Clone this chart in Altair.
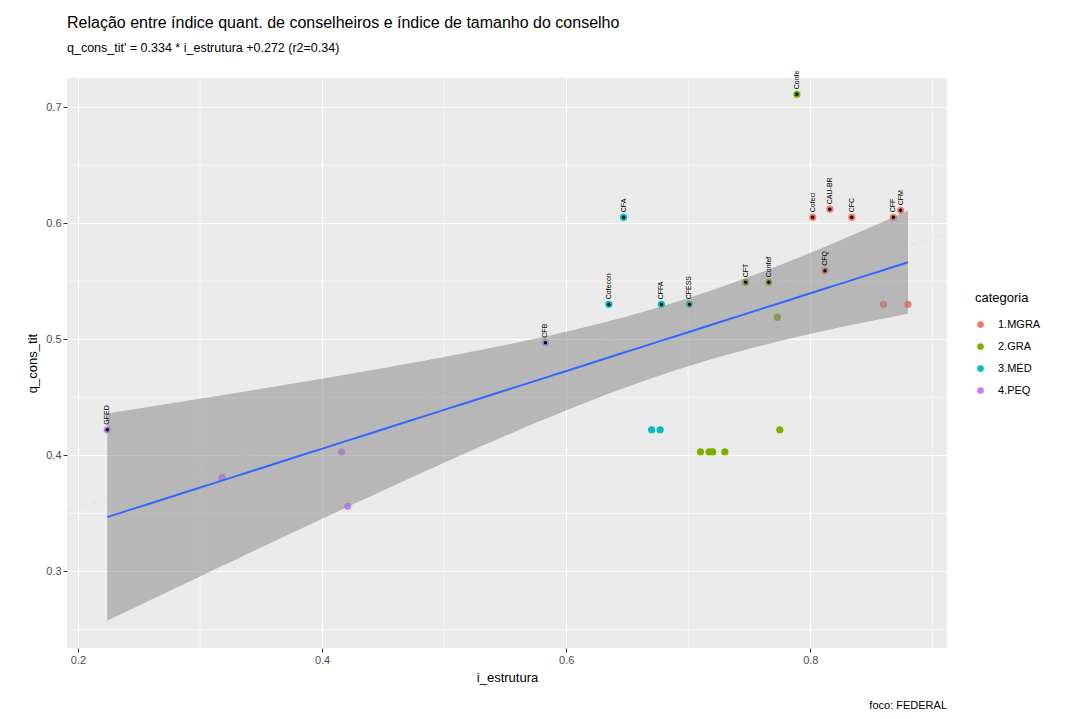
import altair as alt
import pandas as pd
import numpy as np

# ---- data ----
x_vals = [0.224, 0.318, 0.416, 0.421, 0.583, 0.635, 0.647, 0.678, 0.701, 0.747,
          0.766, 0.773, 0.789, 0.802, 0.816, 0.834, 0.868, 0.874, 0.812, 0.860,
          0.880, 0.670, 0.677, 0.710, 0.717, 0.720, 0.730, 0.775]
y_vals = [0.422, 0.381, 0.403, 0.356, 0.497, 0.530, 0.605, 0.530, 0.530, 0.549,
          0.549, 0.519, 0.711, 0.605, 0.612, 0.605, 0.605, 0.611, 0.559, 0.530,
          0.530, 0.422, 0.422, 0.403, 0.403, 0.403, 0.403, 0.422]
categories = ["4.PEQ", "4.PEQ", "4.PEQ", "4.PEQ", "4.PEQ", "3.MÉD", "3.MÉD", "3.MÉD", "3.MÉD", "2.GRA",
              "2.GRA", "2.GRA", "2.GRA", "1.MGRA", "1.MGRA", "1.MGRA", "1.MGRA", "1.MGRA", "1.MGRA", "1.MGRA",
              "1.MGRA", "3.MÉD", "3.MÉD", "2.GRA", "2.GRA", "2.GRA", "2.GRA", "2.GRA"]
labels = ["GFED", "", "", "", "CFB", "Cofecon", "CFA", "CFFA", "CFESS", "CFT",
          "Confef", "", "Confe", "Cofeci", "CAU-BR", "CFC", "CFF", "CFM", "CFQ", "",
          "", "", "", "", "", "", "", ""]

cat_names = ["1.MGRA", "2.GRA", "3.MÉD", "4.PEQ"]
cat_colors = ["#F8766D", "#7CAE00", "#00BFC4", "#C77CFF"]

x_ticks = [0.2, 0.4, 0.6, 0.8]
y_ticks = [0.3, 0.4, 0.5, 0.6, 0.7]
x_minor = [0.3, 0.5, 0.7, 0.9]
y_minor = [0.25, 0.35, 0.45, 0.55, 0.65]
x_domain = [0.191, 0.912]
y_domain = [0.234, 0.725]

# faint dashed reference line (end points)
ref_x = [0.191, 0.912]
ref_y = [0.352, 0.591]

title_text = "Relação entre índice quant. de conselheiros e índice de tamanho do conselho"
subtitle_text = "q_cons_tit' = 0.334 * i_estrutura +0.272 (r2=0.34)"
caption_text = ["foco: FEDERAL"]

# ---- tables ----
pts = pd.DataFrame({"x": x_vals, "y": y_vals, "cat": categories, "label": labels})

xa = np.array(x_vals)
ya = np.array(y_vals)
n = len(xa)
slope, intercept = np.polyfit(xa, ya, 1)
resid = ya - (slope * xa + intercept)
s = np.sqrt((resid ** 2).sum() / (n - 2))
xm = xa.mean()
sxx = ((xa - xm) ** 2).sum()
t_crit = 2.056
grid = np.linspace(xa.min(), xa.max(), 80)
fit = slope * grid + intercept
se = s * np.sqrt(1.0 / n + (grid - xm) ** 2 / sxx)
band = pd.DataFrame({"x": grid, "fit": fit, "lo": fit - t_crit * se, "hi": fit + t_crit * se})

ref = pd.DataFrame({"x": ref_x, "y": ref_y})
xminor_df = pd.DataFrame({"x": x_minor})
yminor_df = pd.DataFrame({"y": y_minor})
cap_df = pd.DataFrame({"t": caption_text})

xscale = alt.Scale(domain=x_domain, nice=False, zero=False)
yscale = alt.Scale(domain=y_domain, nice=False, zero=False)

xaxis = alt.Axis(values=x_ticks, format=".1f", title="i_estrutura", grid=True)
yaxis = alt.Axis(values=y_ticks, format=".1f", title="q_cons_tit", grid=True)


def X(field="x"):
    return alt.X(f"{field}:Q", scale=xscale, axis=xaxis)


def Y(field="y"):
    return alt.Y(f"{field}:Q", scale=yscale, axis=yaxis)


minor_x = alt.Chart(xminor_df).mark_rule(color="white", strokeWidth=0.6).encode(x=X())
minor_y = alt.Chart(yminor_df).mark_rule(color="white", strokeWidth=0.6).encode(y=Y())

ref_line = alt.Chart(ref).mark_line(color="#DEDEDE", strokeWidth=1, strokeDash=[7, 6], opacity=0.8).encode(
    x=X(), y=Y()
)

points = alt.Chart(pts).mark_circle(size=52, opacity=1).encode(
    x=X(), y=Y(),
    color=alt.Color(
        "cat:N",
        scale=alt.Scale(domain=cat_names, range=cat_colors),
        legend=alt.Legend(
            title="categoria", orient="none", legendX=908, legendY=214,
            symbolType="circle", symbolSize=45, titleFontSize=13, labelFontSize=11,
            titleFontWeight="normal", titleColor="#000000", labelColor="#000000",
            rowPadding=10, titlePadding=14, symbolStrokeWidth=0, labelOffset=12,
            padding=0,
        ),
    ),
)

band_area = alt.Chart(band).mark_area(color="#8C8C8C", opacity=0.55).encode(
    x=X(), y=Y("lo"), y2="hi:Q"
)
fit_line = alt.Chart(band).mark_line(color="#3366FF", strokeWidth=2).encode(x=X(), y=Y("fit"))

black_dots = alt.Chart(pts).transform_filter("datum.label != ''").mark_circle(
    size=12, color="black", opacity=1
).encode(x=X(), y=Y())

label_text = alt.Chart(pts).transform_filter("datum.label != ''").mark_text(
    angle=270, align="left", baseline="middle", fontSize=7, color="#000000", yOffset=-5
).encode(x=X(), y=Y(), text="label:N")

caption = alt.Chart(cap_df).mark_text(
    align="right", baseline="middle", fontSize=11, color="#000000"
).encode(x=alt.value(880), y=alt.value(628), text="t:N")

chart = alt.layer(
    minor_x, minor_y, ref_line, points, band_area, fit_line, black_dots, label_text, caption
).properties(
    width=880,
    height=570,
    title=alt.TitleParams(
        text=title_text, subtitle=subtitle_text, anchor="start", frame="group",
        fontSize=16, fontWeight="normal", color="#000000",
        subtitleFontSize=12.5, subtitleColor="#000000", subtitlePadding=11, offset=16,
    ),
    padding={"left": 59, "top": 70, "right": 132, "bottom": 63},
    autosize=alt.AutoSizeParams(type="none"),
).configure(
    font="Liberation Sans",
).configure_view(
    fill="#EBEBEB", stroke=None,
).configure_axis(
    gridColor="white", gridWidth=1.2, domain=False,
    tickColor="#333333", tickSize=4, tickWidth=1,
    labelColor="#4D4D4D", labelFontSize=11, labelPadding=2,
    titleFontSize=13, titleFontWeight="normal", titleColor="#000000",
).configure_axisX(titlePadding=6).configure_axisY(titlePadding=6)

chart.save("out.html", embed_options={"renderer": "svg", "actions": False})
